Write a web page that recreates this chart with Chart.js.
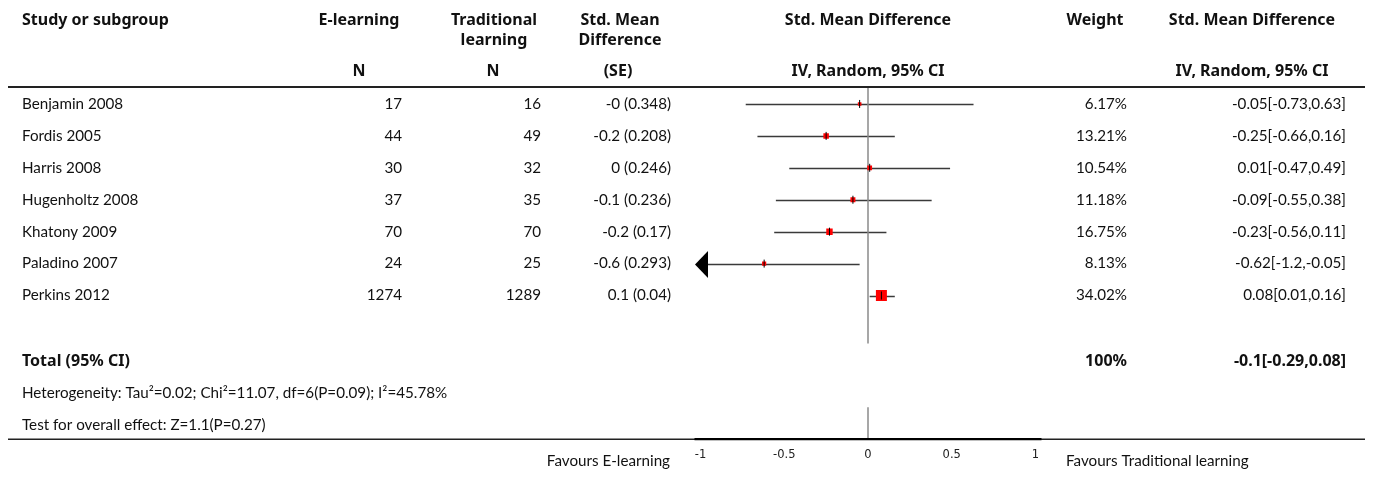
<!DOCTYPE html>
<html>
<head>
<meta charset="utf-8">
<script src="https://cdn.jsdelivr.net/npm/chart.js@4/dist/chart.umd.min.js"></script>
<style>
  html, body { margin: 0; padding: 0; background: #fff; }
  #wrap { width: 1373px; height: 477px; }
</style>
</head>
<body>
<div id="wrap"><canvas id="c" width="1373" height="477"></canvas></div>
<script>
// ---------- data ----------
const studies = ['Benjamin 2008','Fordis 2005','Harris 2008','Hugenholtz 2008','Khatony 2009','Paladino 2007','Perkins 2012'];
const nElearning = [17, 44, 30, 37, 70, 24, 1274];
const nTraditional = [16, 49, 32, 35, 70, 25, 1289];
const smdSE = ['-0 (0.348)','-0.2 (0.208)','0 (0.246)','-0.1 (0.236)','-0.2 (0.17)','-0.6 (0.293)','0.1 (0.04)'];
const estimates = [-0.05, -0.25, 0.01, -0.09, -0.23, -0.62, 0.08];
const ciLow = [-0.73, -0.66, -0.47, -0.55, -0.56, -1.2, 0.01];
const ciHigh = [0.63, 0.16, 0.49, 0.38, 0.11, -0.05, 0.16];
const weights = [6.17, 13.21, 10.54, 11.18, 16.75, 8.13, 34.02];
const ciText = ['-0.05[-0.73,0.63]','-0.25[-0.66,0.16]','0.01[-0.47,0.49]','-0.09[-0.55,0.38]','-0.23[-0.56,0.11]','-0.62[-1.2,-0.05]','0.08[0.01,0.16]'];
const totalLabel = 'Total (95% CI)';
const totalWeight = '100%';
const totalCI = '-0.1[-0.29,0.08]';
const heterogeneity = 'Heterogeneity: Tau\u00B2=0.02; Chi\u00B2=11.07, df=6(P=0.09); I\u00B2=45.78%';
const overallTest = 'Test for overall effect: Z=1.1(P=0.27)';
const xTicks = [-1, -0.5, 0, 0.5, 1];
const favoursLeft = 'Favours E-learning';
const favoursRight = 'Favours Traditional learning';

// ---------- styles ----------
const FONT = 'Lato, sans-serif';
const FS = 15.2;
const BFONT = '"Noto Sans", sans-serif';
const BFS = 16;
const TXT = '#111';
const X_MIN = -1, X_MAX = 1;
const TOTAL_ROW = 8, HET_ROW = 9, TEST_ROW = 10;

const squarePts = estimates.map((e, i) => ({ x: e, y: i }));
const squareRadius = weights.map(w => (2 + 9 * w / 34.02) / Math.SQRT2);
const tickPts = estimates.map((e, i) => ({ x: e, y: i }));
const zeroLine = [{x:0,y:-0.5},{x:0,y:7.5},{x:null,y:null},{x:0,y:9.5},{x:0,y:10.5}];

const tablePlugin = {
  id: 'forestTable',
  beforeDatasetsDraw(chart) {
    const ctx = chart.ctx;
    const xs = chart.scales.x, ys = chart.scales.y;
    ctx.save();
    ctx.strokeStyle = '#3a3a3a';
    ctx.lineWidth = 1.5;
    ctx.fillStyle = '#000';
    for (let i = 0; i < studies.length; i++) {
      const y = Math.round(ys.getPixelForValue(i)) + 0.5;
      const clipped = ciLow[i] < X_MIN;
      const x1 = clipped ? xs.getPixelForValue(X_MIN) + 7 : xs.getPixelForValue(ciLow[i]);
      const x2 = xs.getPixelForValue(Math.min(ciHigh[i], X_MAX));
      ctx.beginPath();
      ctx.moveTo(x1, y); ctx.lineTo(x2, y); ctx.stroke();
      if (clipped) {
        const tip = xs.getPixelForValue(X_MIN) - 5.5;
        ctx.beginPath();
        ctx.moveTo(tip, y);
        ctx.lineTo(tip + 13, y - 13.5);
        ctx.lineTo(tip + 13, y + 13.5);
        ctx.closePath();
        ctx.fill();
      }
    }
    ctx.restore();
  },
  afterDraw(chart) {
    const ctx = chart.ctx;
    const ys = chart.scales.y;
    const ry = i => ys.getPixelForValue(i);
    ctx.save();
    ctx.fillStyle = TXT;
    ctx.textBaseline = 'middle';
    const put = (t, x, y, align, bold) => {
      ctx.font = bold ? ('bold ' + BFS + 'px ' + BFONT) : (FS + 'px ' + FONT);
      ctx.textAlign = align;
      ctx.fillText(t, x, y);
    };
    // headers
    put('Study or subgroup', 22, 20, 'left', true);
    put('E-learning', 359, 20, 'center', true);
    put('Traditional', 494, 20, 'center', true);
    put('learning', 494, 40, 'center', true);
    put('Std. Mean', 620, 20, 'center', true);
    put('Difference', 620, 40, 'center', true);
    put('Std. Mean Difference', 868, 20, 'center', true);
    put('Weight', 1095, 20, 'center', true);
    put('Std. Mean Difference', 1252, 20, 'center', true);
    put('N', 359, 71, 'center', true);
    put('N', 493, 71, 'center', true);
    put('(SE)', 618, 71, 'center', true);
    put('IV, Random, 95% CI', 868, 71, 'center', true);
    put('IV, Random, 95% CI', 1252, 71, 'center', true);
    // rules
    ctx.strokeStyle = '#222';
    ctx.lineWidth = 2;
    ctx.beginPath(); ctx.moveTo(8, 87); ctx.lineTo(1365, 87); ctx.stroke();
    ctx.lineWidth = 1.5;
    const axY = chart.chartArea.bottom;
    ctx.beginPath(); ctx.moveTo(8, axY); ctx.lineTo(1365, axY); ctx.stroke();
    ctx.lineWidth = 2.2;
    ctx.strokeStyle = '#000';
    ctx.beginPath(); ctx.moveTo(chart.scales.x.getPixelForValue(X_MIN) - 6, axY); ctx.lineTo(chart.scales.x.getPixelForValue(X_MAX) + 6, axY); ctx.stroke();
    // study rows
    for (let i = 0; i < studies.length; i++) {
      const y = ry(i);
      put(studies[i], 22, y, 'left', false);
      put(String(nElearning[i]), 402, y, 'right', false);
      put(String(nTraditional[i]), 541, y, 'right', false);
      put(smdSE[i], 671, y, 'right', false);
      put(weights[i].toFixed(2) + '%', 1127, y, 'right', false);
      put(ciText[i], 1346, y, 'right', false);
    }
    put(totalLabel, 22, ry(TOTAL_ROW) + 2, 'left', true);
    put(totalWeight, 1127, ry(TOTAL_ROW) + 2, 'right', true);
    put(totalCI, 1346, ry(TOTAL_ROW) + 2, 'right', true);
    put(heterogeneity, 22, ry(HET_ROW) + 2, 'left', false);
    put(overallTest, 22, ry(TEST_ROW) + 2, 'left', false);
    put(favoursLeft, 670, 461, 'right', false);
    put(favoursRight, 1066, 461, 'left', false);
    ctx.restore();
  }
};

new Chart(document.getElementById('c'), {
  type: 'scatter',
  data: {
    datasets: [
      {
        type: 'line',
        data: zeroLine,
        borderColor: '#8a8a8a',
        borderWidth: 1.5,
        pointRadius: 0,
        spanGaps: false,
        order: 3
      },
      {
        data: squarePts,
        pointStyle: 'rect',
        pointRadius: ctx => squareRadius[ctx.dataIndex],
        backgroundColor: '#ff0000',
        borderWidth: 0,
        order: 2
      },
      {
        data: tickPts,
        pointStyle: 'line',
        rotation: 90,
        pointRadius: 4,
        borderColor: '#000',
        borderWidth: 1,
        order: 1
      }
    ]
  },
  options: {
    responsive: false,
    animation: false,
    devicePixelRatio: 1,
    events: [],
    layout: { padding: { left: 700.5, right: 337.5, top: 88, bottom: 6 } },
    plugins: { legend: { display: false }, tooltip: { enabled: false } },
    scales: {
      x: {
        type: 'linear',
        min: X_MIN, max: X_MAX,
        afterBuildTicks: s => { s.ticks = xTicks.map(v => ({ value: v })); },
        grid: { display: false, drawTicks: false },
        border: { display: false },
        ticks: {
          padding: 9,
          color: '#222',
          font: { family: '"DejaVu Sans", sans-serif', size: 11.5 },
          maxRotation: 0,
          callback: v => String(v)
        }
      },
      y: {
        type: 'linear',
        min: -0.5, max: 10.5,
        reverse: true,
        display: false
      }
    }
  },
  plugins: [tablePlugin]
});
</script>
</body>
</html>
